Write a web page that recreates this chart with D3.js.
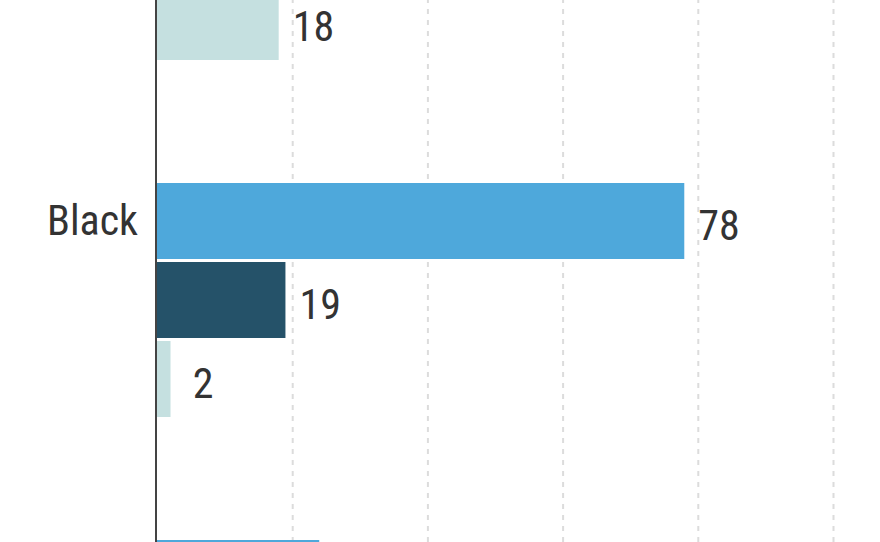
<!DOCTYPE html>
<html>
<head>
<meta charset="utf-8">
<script src="https://cdn.jsdelivr.net/npm/d3@7"></script>
<style>
  html, body { margin: 0; padding: 0; background: #fff; }
  svg { display: block; }
  text { font-family: "Roboto Condensed", sans-serif; font-weight: 400; fill: #333; }
</style>
</head>
<body>
<svg id="chart" width="880" height="542"></svg>
<script>
// groups (only "Black" fully in view; neighbours are cut by the frame)
var groups = ['White', 'Black', 'Hispanic']
var series = ['first', 'second', 'third']
// values per group, in series order; null = outside the visible crop
var white_values = [null, null, 18]
var black_values = [78, 19, 2]
var hispanic_values = [24, null, null]
var grid_ticks = [20, 40, 60, 80, 100]
var series_colors = ['#4ea8db', '#255269', '#c5e0e0']

var values_by_group = { 'White': white_values, 'Black': black_values, 'Hispanic': hispanic_values }

var width = 880, height = 542
var svg = d3.select('#chart')

var x = d3.scaleLinear().domain([0, 100]).range([157, 833])

// group bands: step 357, bars block 234 tall
var y0 = d3.scaleBand()
    .domain(groups)
    .range([-174, -174 + 3 * 357 - 123])
    .paddingInner(123 / 357)
    .paddingOuter(0)

var y1 = d3.scaleBand()
    .domain(series)
    .range([0, y0.bandwidth()])
    .paddingInner(3 / 79)
    .paddingOuter(0)

// only keep texts that land inside the frame
function in_view(y) { return y > 20 && y < height }

// dashed grid
var grid = svg.append('g')
    .attr('class', 'grid')
    .attr('transform', 'translate(0,' + height + ')')
    .call(d3.axisBottom(x).tickValues(grid_ticks).tickSize(-height).tickFormat(''))
grid.select('.domain').remove()
grid.selectAll('.tick line')
    .attr('stroke', '#dcdcdc')
    .attr('stroke-width', 2)
    .attr('stroke-dasharray', '5,6')

var rows = []
groups.forEach(function(g) {
    values_by_group[g].forEach(function(v, i) {
        if (v != null) rows.push({ group: g, series: series[i], idx: i, value: v })
    })
})

svg.append('g').selectAll('rect')
    .data(rows)
    .enter().append('rect')
        .attr('x', x(0))
        .attr('y', function(d) { return y0(d.group) + y1(d.series) })
        .attr('width', function(d) { return x(d.value) - x(0) })
        .attr('height', y1.bandwidth())
        .attr('fill', function(d) { return series_colors[d.idx] })

// value labels, small bars get pushed out a little
var label_y = function(d) { return y0(d.group) + y1(d.series) + y1.bandwidth() / 2 + 19 }
svg.append('g').selectAll('text')
    .data(rows.filter(function(d) { return in_view(label_y(d)) }))
    .enter().append('text')
        .attr('x', function(d) { return x(Math.max(d.value, 3.2)) + 14 })
        .attr('y', label_y)
        .style('font-size', '42px')
        .text(function(d) { return d.value })

// group labels next to the first bar
var group_y = function(g) { return y0(g) + y1(series[0]) + y1.bandwidth() / 2 + 14 }
svg.append('g').selectAll('text')
    .data(groups.filter(function(g) { return in_view(group_y(g)) }))
    .enter().append('text')
        .attr('x', 138)
        .attr('y', group_y)
        .attr('text-anchor', 'end')
        .style('font-size', '42px')
        .text(function(d) { return d })

// vertical axis line
svg.append('line')
    .attr('x1', x(0) - 1).attr('x2', x(0) - 1)
    .attr('y1', 0).attr('y2', height)
    .attr('stroke', '#444')
    .attr('stroke-width', 2)
</script>
</body>
</html>
